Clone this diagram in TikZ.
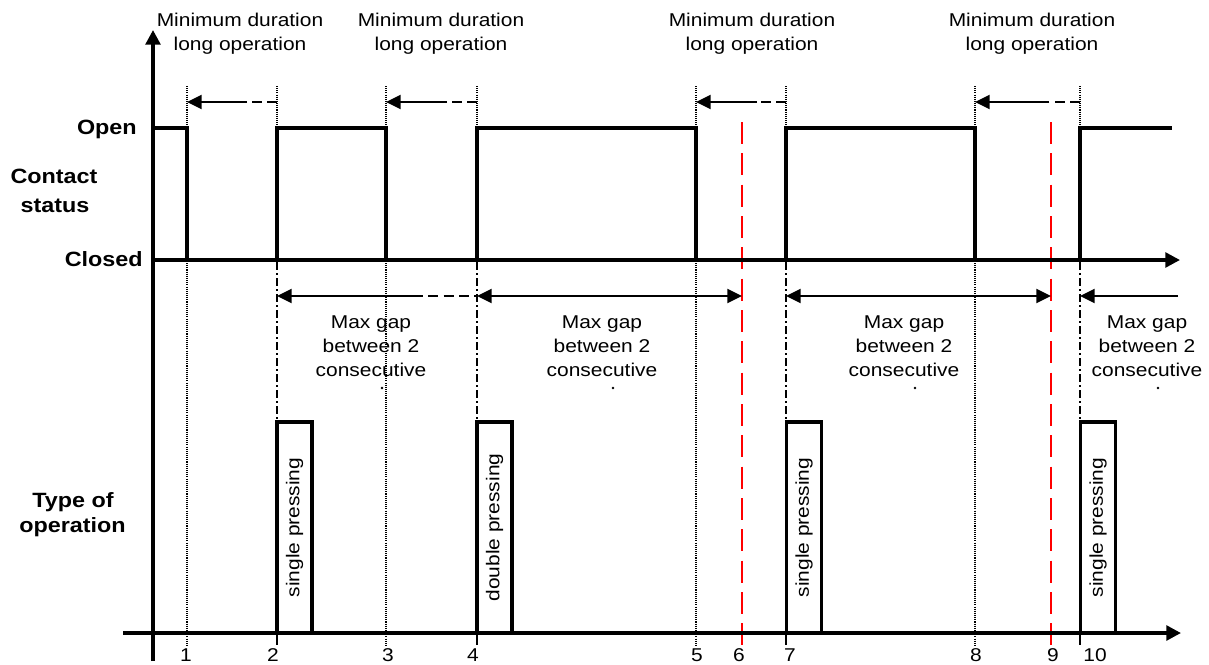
\documentclass[tikz,border=0pt]{standalone}
\usepackage{fontspec}
\setmainfont{Liberation Sans}[FakeStretch=1.13]
\usetikzlibrary{arrows.meta}
\tikzset{
  axisline/.style={line width=2.6pt, -{Triangle[length=11pt,width=11pt]}},
  sig/.style={line width=3.4pt, line join=miter, line cap=rect},
  guidedot/.style={line width=1pt, dash pattern=on 0.8pt off 0.8pt},
  guidedd/.style={line width=1pt, dash pattern=on 6pt off 2.5pt on 1pt off 2.5pt},
  tickline/.style={line width=1pt},
  redline/.style={red, line width=1.9pt, dash pattern=on 16.5pt off 7pt},
  arr/.style={line width=1.5pt, -{Triangle[length=11pt,width=10.5pt]}},
  darr/.style={line width=1.5pt, {Triangle[length=11pt,width=10.5pt]}-{Triangle[length=11pt,width=10.5pt]}},
  dashpart/.style={line width=1.5pt, dash pattern=on 7.5pt off 4pt},
  opbox/.style={draw, line width=2.6pt, inner sep=0pt, minimum width=26.25pt, minimum height=158.25pt,
                font=\fontsize{13.9pt}{16pt}\selectfont},
  txt/.style={font=\fontsize{13.9pt}{16pt}\selectfont, inner sep=0pt, anchor=base},
  side/.style={font=\fontsize{15.5pt}{18pt}\selectfont\bfseries, inner sep=0pt, anchor=base},
  speck/.style={circle, fill, inner sep=0pt, minimum size=2pt},
}
\begin{document}
\begin{tikzpicture}[x=0.75pt,y=-0.75pt]
\useasboundingbox (0,0) rectangle (1209,664);

% guide lines (dotted)
\foreach \xx in {187,386,696,975} \draw[guidedot] (\xx,86) -- (\xx,645);
\foreach \xx in {277,477,786,1080} {
  \draw[guidedot] (\xx,86) -- (\xx,128);
  \draw[guidedd] (\xx,262) -- (\xx,422);
  \draw[tickline] (\xx,633) -- (\xx,645);
}
% red lines
\foreach \xx in {742,1051} \draw[redline] (\xx,122) -- (\xx,648);

% signal
\draw[sig] (153,128) -- (187,128) -- (187,260) -- (277,260) -- (277,128) -- (386,128) -- (386,260)
  -- (477,260) -- (477,128) -- (696,128) -- (696,260) -- (786,260) -- (786,128) -- (975,128)
  -- (975,260) -- (1080,260) -- (1080,128) -- (1170,128);

% axes
\coordinate (vb) at (153,661); \coordinate (vt) at (153,30);
\coordinate (ua0) at (153,260); \coordinate (ua1) at (1180,260);
\coordinate (ba0) at (123,633); \coordinate (ba1) at (1181,633);
\draw[axisline] (vb) -- (vt);
\draw[axisline] (ua0) -- (ua1);
\draw[axisline] (ba0) -- (ba1);

% minimum duration arrows
\coordinate (a1s) at (277,102); \coordinate (a1m) at (247,102); \coordinate (a1e) at (187,102);
\coordinate (a2s) at (477,102); \coordinate (a2m) at (447,102); \coordinate (a2e) at (386,102);
\coordinate (a3s) at (786,102); \coordinate (a3m) at (757,102); \coordinate (a3e) at (696,102);
\coordinate (a4s) at (1080,102); \coordinate (a4m) at (1048,102); \coordinate (a4e) at (975,102);
\foreach \i in {1,2,3,4} {
  \draw[dashpart] (a\i s) -- (a\i m);
  \draw[arr] (a\i m) -- (a\i e);
}

% max gap arrows
\coordinate (b1s) at (277,296); \coordinate (b1m) at (413,296); \coordinate (b1e) at (477,296);
\draw[arr] (b1m) -- (b1s);
\draw[dashpart] (b1m) -- (b1e);
\coordinate (b2s) at (477,296); \coordinate (b2e) at (742,296);
\draw[darr] (b2s) -- (b2e);
\coordinate (b3s) at (786,296); \coordinate (b3e) at (1051,296);
\draw[darr] (b3s) -- (b3e);
\coordinate (b4s) at (1178,296); \coordinate (b4e) at (1080,296);
\draw[arr] (b4s) -- (b4e);

% top labels
\foreach \xx/\n in {240/1,441/2,752/3,1032/4} {
  \node[txt] (md\n) at (\xx,26) {Minimum duration};
  \node[txt] (lo\n) at (\xx,50) {long operation};
}

% max gap labels
\foreach \xx/\n in {371/1,602/2,904/3,1147/4} {
  \node[txt] (mg\n) at (\xx,328) {Max gap};
  \node[txt] (bt\n) at (\xx,352) {between 2};
  \node[txt] (cs\n) at (\xx,376) {consecutive};
  \node[speck] (dt\n) at (\xx+11,388) {};
}

% side labels
\node[side, anchor=base east] (open) at (137,134) {Open};
\node[side] (contact) at (54,183) {Contact};
\node[side] (status) at (55,212) {status};
\node[side, anchor=base east] (closed) at (143,266) {Closed};
\node[side] (type) at (73,507) {Type of};
\node[side] (oper) at (72.5,532) {operation};

% operation boxes
\node[opbox] (op1) at (294.5,527.5) {\rotatebox{90}{single pressing}};
\node[opbox] (op2) at (494.5,527.5) {\rotatebox{90}{double pressing}};
\node[opbox] (op3) at (804,527.5) {\rotatebox{90}{single pressing}};
\node[opbox] (op4) at (1098,527.5) {\rotatebox{90}{single pressing}};

% tick labels
\foreach \xx/\t in {186/1,273/2,388/3,473/4,697/5,739/6,790/7,976/8,1053/9,1095/10}
  \node[txt] (n\t) at (\xx,661) {\t};
\end{tikzpicture}
\end{document}
